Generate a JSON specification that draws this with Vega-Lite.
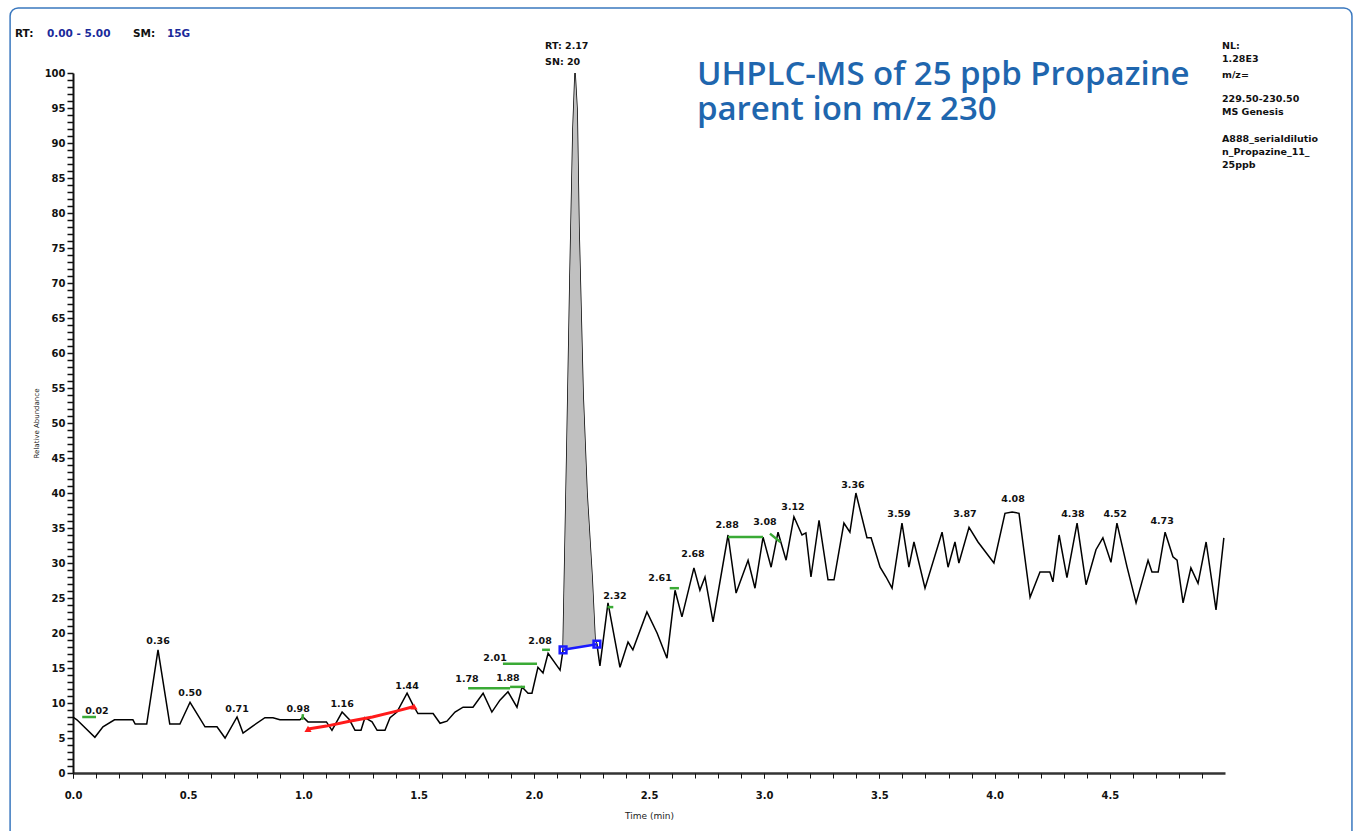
{
  "$schema": "https://vega.github.io/schema/vega-lite/v6.json",
  "width": 1152,
  "height": 700,
  "autosize": "none",
  "padding": {"left": 73, "top": 73, "right": 130, "bottom": 58},
  "background": "white",
  "config": {"view": {"stroke": null}, "font": "DejaVu Sans"},
  "resolve": {"axis": {"x": "independent", "y": "independent"}},
  "datasets": {
    "frame": [{"x1": -0.273, "x2": 5.551, "y1": 109.3, "y2": -9.6}],
    "trace": [
      {"t": 0.0, "v": 8.0}, {"t": 0.017, "v": 7.6}, {"t": 0.095, "v": 5.1}, {"t": 0.13, "v": 6.6},
      {"t": 0.18, "v": 7.6}, {"t": 0.26, "v": 7.6}, {"t": 0.27, "v": 7.0}, {"t": 0.32, "v": 7.0},
      {"t": 0.369, "v": 17.6}, {"t": 0.42, "v": 7.0}, {"t": 0.464, "v": 7.0}, {"t": 0.508, "v": 10.1},
      {"t": 0.573, "v": 6.6}, {"t": 0.625, "v": 6.6}, {"t": 0.66, "v": 5.0}, {"t": 0.712, "v": 8.0},
      {"t": 0.738, "v": 5.7}, {"t": 0.78, "v": 6.7}, {"t": 0.833, "v": 7.9}, {"t": 0.868, "v": 7.9},
      {"t": 0.898, "v": 7.6}, {"t": 0.985, "v": 7.6}, {"t": 0.998, "v": 8.0}, {"t": 1.02, "v": 7.3},
      {"t": 1.1, "v": 7.3}, {"t": 1.124, "v": 6.1}, {"t": 1.168, "v": 8.7}, {"t": 1.2, "v": 7.6},
      {"t": 1.224, "v": 6.1}, {"t": 1.25, "v": 6.1}, {"t": 1.267, "v": 7.9}, {"t": 1.298, "v": 7.3},
      {"t": 1.32, "v": 6.1}, {"t": 1.354, "v": 6.1}, {"t": 1.376, "v": 7.9}, {"t": 1.406, "v": 8.7},
      {"t": 1.45, "v": 11.4}, {"t": 1.476, "v": 9.7}, {"t": 1.497, "v": 8.5}, {"t": 1.563, "v": 8.5},
      {"t": 1.593, "v": 7.1}, {"t": 1.623, "v": 7.4}, {"t": 1.658, "v": 8.7}, {"t": 1.693, "v": 9.4},
      {"t": 1.736, "v": 9.4}, {"t": 1.78, "v": 11.4}, {"t": 1.818, "v": 8.7}, {"t": 1.853, "v": 10.4},
      {"t": 1.888, "v": 11.6}, {"t": 1.927, "v": 9.4}, {"t": 1.949, "v": 12.3}, {"t": 1.975, "v": 11.4},
      {"t": 1.992, "v": 11.4}, {"t": 2.018, "v": 15.1}, {"t": 2.04, "v": 14.3}, {"t": 2.062, "v": 17.1},
      {"t": 2.114, "v": 14.7}, {"t": 2.127, "v": 17.6}, {"t": 2.144, "v": 47}, {"t": 2.157, "v": 70.9},
      {"t": 2.17, "v": 92}, {"t": 2.179, "v": 100}, {"t": 2.188, "v": 94.7}, {"t": 2.196, "v": 78},
      {"t": 2.214, "v": 54}, {"t": 2.231, "v": 40}, {"t": 2.253, "v": 28}, {"t": 2.266, "v": 19},
      {"t": 2.274, "v": 18.4}, {"t": 2.287, "v": 15.3}, {"t": 2.322, "v": 24.3}, {"t": 2.374, "v": 15.1},
      {"t": 2.409, "v": 18.7}, {"t": 2.43, "v": 17.6}, {"t": 2.491, "v": 23}, {"t": 2.535, "v": 20},
      {"t": 2.578, "v": 16.4}, {"t": 2.613, "v": 26.1}, {"t": 2.643, "v": 22.3}, {"t": 2.695, "v": 29.3},
      {"t": 2.721, "v": 26.1}, {"t": 2.743, "v": 28}, {"t": 2.778, "v": 21.6}, {"t": 2.843, "v": 34},
      {"t": 2.878, "v": 25.7}, {"t": 2.93, "v": 30.4}, {"t": 2.96, "v": 26.4}, {"t": 2.995, "v": 33.7},
      {"t": 3.03, "v": 29.4}, {"t": 3.06, "v": 34.4}, {"t": 3.095, "v": 30.4}, {"t": 3.129, "v": 36.6},
      {"t": 3.164, "v": 34}, {"t": 3.181, "v": 34.3}, {"t": 3.203, "v": 28}, {"t": 3.238, "v": 36.1},
      {"t": 3.277, "v": 27.6}, {"t": 3.303, "v": 27.6}, {"t": 3.346, "v": 35.7}, {"t": 3.372, "v": 34.4},
      {"t": 3.398, "v": 40}, {"t": 3.446, "v": 33.6}, {"t": 3.464, "v": 33.6}, {"t": 3.503, "v": 29.4},
      {"t": 3.529, "v": 28}, {"t": 3.555, "v": 26.4}, {"t": 3.598, "v": 35.7}, {"t": 3.628, "v": 29.4},
      {"t": 3.65, "v": 33}, {"t": 3.698, "v": 26.4}, {"t": 3.772, "v": 34.4}, {"t": 3.798, "v": 29.4},
      {"t": 3.828, "v": 33}, {"t": 3.845, "v": 30}, {"t": 3.889, "v": 35.1}, {"t": 3.928, "v": 33},
      {"t": 3.997, "v": 30}, {"t": 4.045, "v": 37.1}, {"t": 4.076, "v": 37.3}, {"t": 4.106, "v": 37.1},
      {"t": 4.154, "v": 25.1}, {"t": 4.197, "v": 28.7}, {"t": 4.24, "v": 28.7}, {"t": 4.253, "v": 27.3},
      {"t": 4.28, "v": 34}, {"t": 4.314, "v": 27.9}, {"t": 4.358, "v": 35.7}, {"t": 4.397, "v": 26.9},
      {"t": 4.44, "v": 31.9}, {"t": 4.47, "v": 33.6}, {"t": 4.505, "v": 30.1}, {"t": 4.531, "v": 35.7},
      {"t": 4.575, "v": 29.4}, {"t": 4.614, "v": 24.3}, {"t": 4.666, "v": 30.4}, {"t": 4.683, "v": 28.7},
      {"t": 4.71, "v": 28.7}, {"t": 4.74, "v": 34.4}, {"t": 4.774, "v": 30.9}, {"t": 4.792, "v": 30.4},
      {"t": 4.818, "v": 24.3}, {"t": 4.852, "v": 29.3}, {"t": 4.883, "v": 27.1}, {"t": 4.918, "v": 33},
      {"t": 4.961, "v": 23.3}, {"t": 4.995, "v": 33.6}
    ],
    "peak": [
      {"t": 2.127, "v": 17.6, "base": 17.6}, {"t": 2.144, "v": 47, "base": 17.7},
      {"t": 2.157, "v": 70.9, "base": 17.8}, {"t": 2.17, "v": 92, "base": 17.9},
      {"t": 2.179, "v": 100, "base": 17.9}, {"t": 2.188, "v": 94.7, "base": 18.0},
      {"t": 2.196, "v": 78, "base": 18.0}, {"t": 2.214, "v": 54, "base": 18.1},
      {"t": 2.231, "v": 40, "base": 18.2}, {"t": 2.253, "v": 28, "base": 18.3},
      {"t": 2.266, "v": 19, "base": 18.3}, {"t": 2.274, "v": 18.4, "base": 18.4}
    ],
    "green": [
      {"t1": 0.04, "t2": 0.1, "v1": 8.0, "v2": 8.0},
      {"t1": 0.995, "t2": 0.998, "v1": 7.6, "v2": 8.4},
      {"t1": 1.715, "t2": 1.897, "v1": 12.1, "v2": 12.1},
      {"t1": 1.897, "t2": 1.962, "v1": 12.3, "v2": 12.3},
      {"t1": 1.866, "t2": 2.014, "v1": 15.6, "v2": 15.6},
      {"t1": 2.036, "t2": 2.07, "v1": 17.6, "v2": 17.6},
      {"t1": 2.32, "t2": 2.345, "v1": 23.7, "v2": 23.7},
      {"t1": 2.59, "t2": 2.63, "v1": 26.4, "v2": 26.4},
      {"t1": 2.843, "t2": 2.995, "v1": 33.7, "v2": 33.7},
      {"t1": 3.025, "t2": 3.07, "v1": 34.2, "v2": 33.0}
    ],
    "red": [
      {"t": 1.02, "v": 6.3}, {"t": 1.1, "v": 6.7}, {"t": 1.2, "v": 7.4}, {"t": 1.3, "v": 8.0},
      {"t": 1.4, "v": 8.8}, {"t": 1.48, "v": 9.5}
    ],
    "redEnds": [{"t": 1.02, "v": 6.3}, {"t": 1.48, "v": 9.5}],
    "blue": [{"t": 2.127, "v": 17.6}, {"t": 2.274, "v": 18.4}],
    "labels": [
      {"t": 0.104, "v": 8.4, "txt": "0.02"}, {"t": 0.369, "v": 18.4, "txt": "0.36"},
      {"t": 0.508, "v": 11.0, "txt": "0.50"}, {"t": 0.712, "v": 8.7, "txt": "0.71"},
      {"t": 0.977, "v": 8.7, "txt": "0.98"}, {"t": 1.168, "v": 9.4, "txt": "1.16"},
      {"t": 1.45, "v": 12.0, "txt": "1.44"}, {"t": 1.71, "v": 13.0, "txt": "1.78"},
      {"t": 1.888, "v": 13.1, "txt": "1.88"}, {"t": 1.832, "v": 16.0, "txt": "2.01"},
      {"t": 2.027, "v": 18.4, "txt": "2.08"}, {"t": 2.352, "v": 24.9, "txt": "2.32"},
      {"t": 2.548, "v": 27.4, "txt": "2.61"}, {"t": 2.691, "v": 30.9, "txt": "2.68"},
      {"t": 2.839, "v": 35.0, "txt": "2.88"}, {"t": 3.003, "v": 35.4, "txt": "3.08"},
      {"t": 3.125, "v": 37.6, "txt": "3.12"}, {"t": 3.385, "v": 40.7, "txt": "3.36"},
      {"t": 3.585, "v": 36.6, "txt": "3.59"}, {"t": 3.871, "v": 36.6, "txt": "3.87"},
      {"t": 4.08, "v": 38.7, "txt": "4.08"}, {"t": 4.34, "v": 36.6, "txt": "4.38"},
      {"t": 4.523, "v": 36.6, "txt": "4.52"}, {"t": 4.727, "v": 35.6, "txt": "4.73"}
    ],
    "peakInfo": [
      {"t": 2.049, "v": 103.4, "txt": "RT: 2.17\nSN: 20"}
    ],
    "header": [
      {"t": -0.252, "v": 105.1, "txt": "RT:", "part": "key"},
      {"t": -0.113, "v": 105.1, "txt": "0.00 - 5.00", "part": "value"},
      {"t": 0.26, "v": 105.1, "txt": "SM:", "part": "key"},
      {"t": 0.408, "v": 105.1, "txt": "15G", "part": "value"}
    ],
    "info": [
      {"t": 4.987, "v": 103.4, "txt": "NL:\n1.28E3"},
      {"t": 4.987, "v": 99.3, "txt": "m/z="},
      {"t": 4.987, "v": 95.9, "txt": "229.50-230.50\nMS Genesis"},
      {"t": 4.987, "v": 90.1, "txt": "A888_serialdilutio\nn_Propazine_11_\n25ppb"}
    ],
    "title": [
      {"t": 2.708, "v": 98.3, "txt": "UHPLC-MS of 25 ppb Propazine\nparent ion m/z 230"}
    ]
  },
  "layer": [
    {
      "data": {"name": "trace"},
      "mark": {"type": "line", "color": "black", "strokeWidth": 1.5},
      "encoding": {
        "x": {
          "field": "t", "type": "quantitative",
          "scale": {"domain": [0, 5], "nice": false, "zero": false},
          "axis": {
            "orient": "bottom",
            "title": "Time (min)",
            "titleFont": "DejaVu Sans", "titleFontSize": 9, "titleFontWeight": "normal", "titleColor": "#222",
            "titlePadding": 11,
            "values": [0, 0.5, 1, 1.5, 2, 2.5, 3, 3.5, 4, 4.5],
            "tickCount": 20,
            "format": ".1f",
            "labelOverlap": false, "labelFlush": false,
            "labelFont": "DejaVu Sans", "labelFontSize": 10, "labelFontWeight": "bold", "labelColor": "#111",
            "labelPadding": 12,
            "domainColor": "#333", "domainWidth": 2.5,
            "tickColor": "#111", "tickSize": 5, "tickWidth": 1,
            "grid": false
          }
        },
        "y": {
          "field": "v", "type": "quantitative",
          "scale": {"domain": [0, 100], "nice": false},
          "axis": {
            "orient": "left",
            "title": "Relative Abundance",
            "titleFont": "DejaVu Sans", "titleFontSize": 7, "titleFontWeight": "normal", "titleColor": "#222",
            "titlePadding": 5,
            "values": [0,1,2,3,4,5,6,7,8,9,10,11,12,13,14,15,16,17,18,19,20,21,22,23,24,25,26,27,28,29,30,31,32,33,34,35,36,37,38,39,40,41,42,43,44,45,46,47,48,49,50,51,52,53,54,55,56,57,58,59,60,61,62,63,64,65,66,67,68,69,70,71,72,73,74,75,76,77,78,79,80,81,82,83,84,85,86,87,88,89,90,91,92,93,94,95,96,97,98,99,100],
            "tickCount": 200,
            "labelExpr": "datum.value % 5 === 0 ? format(datum.value, 'd') : ''",
            "labelOverlap": false, "labelFlush": false, "labelBound": false,
            "labelFont": "DejaVu Sans", "labelFontSize": 10, "labelFontWeight": "bold", "labelColor": "#111",
            "labelPadding": 2,
            "domainColor": "#111", "domainWidth": 2,
            "tickColor": "#111", "tickSize": 6, "tickWidth": 1.5,
            "grid": false
          }
        }
      }
    },
    {
      "data": {"name": "frame"},
      "mark": {"type": "rect", "filled": false, "stroke": "#3a78bf", "strokeWidth": 1.5, "cornerRadius": 8},
      "encoding": {
        "x": {
          "field": "x1", "type": "quantitative",
          "axis": {
            "orient": "bottom", "title": null, "labels": false, "domain": false, "grid": false,
            "values": [0,0.1,0.2,0.3,0.4,0.5,0.6,0.7,0.8,0.9,1,1.1,1.2,1.3,1.4,1.5,1.6,1.7,1.8,1.9,2,2.1,2.2,2.3,2.4,2.5,2.6,2.7,2.8,2.9,3,3.1,3.2,3.3,3.4,3.5,3.6,3.7,3.8,3.9,4,4.1,4.2,4.3,4.4,4.5,4.6,4.7,4.8,4.9],
            "tickCount": 100,
            "tickColor": "#111", "tickSize": 5, "tickWidth": 1
          }
        },
        "x2": {"field": "x2"},
        "y": {"field": "y1", "type": "quantitative", "axis": null},
        "y2": {"field": "y2"}
      }
    },
    {
      "data": {"name": "peak"},
      "mark": {"type": "area", "color": "#c0c0c0", "opacity": 1},
      "encoding": {
        "x": {"field": "t", "type": "quantitative", "axis": null},
        "y": {"field": "v", "type": "quantitative", "axis": null},
        "y2": {"field": "base"}
      }
    },
    {
      "data": {"name": "green"},
      "mark": {"type": "rule", "color": "#3aaa35", "strokeWidth": 2.5},
      "encoding": {
        "x": {"field": "t1", "type": "quantitative", "axis": null},
        "x2": {"field": "t2"},
        "y": {"field": "v1", "type": "quantitative", "axis": null},
        "y2": {"field": "v2"}
      }
    },
    {
      "data": {"name": "red"},
      "mark": {"type": "line", "color": "#ff1a1a", "strokeWidth": 3},
      "encoding": {
        "x": {"field": "t", "type": "quantitative", "axis": null},
        "y": {"field": "v", "type": "quantitative", "axis": null}
      }
    },
    {
      "data": {"name": "redEnds"},
      "mark": {"type": "point", "shape": "triangle-up", "filled": true, "color": "#ff1a1a", "size": 50, "opacity": 1},
      "encoding": {
        "x": {"field": "t", "type": "quantitative", "axis": null},
        "y": {"field": "v", "type": "quantitative", "axis": null}
      }
    },
    {
      "data": {"name": "blue"},
      "mark": {"type": "line", "color": "#1a1aff", "strokeWidth": 2.5},
      "encoding": {
        "x": {"field": "t", "type": "quantitative", "axis": null},
        "y": {"field": "v", "type": "quantitative", "axis": null}
      }
    },
    {
      "data": {"name": "blue"},
      "mark": {"type": "point", "shape": "square", "filled": false, "color": "#1a1aff", "size": 45, "strokeWidth": 2.5, "opacity": 1},
      "encoding": {
        "x": {"field": "t", "type": "quantitative", "axis": null},
        "y": {"field": "v", "type": "quantitative", "axis": null}
      }
    },
    {
      "data": {"name": "labels"},
      "mark": {"type": "text", "font": "DejaVu Sans", "fontSize": 9.5, "fontWeight": "bold", "color": "#111", "align": "center", "baseline": "alphabetic"},
      "encoding": {
        "x": {"field": "t", "type": "quantitative", "axis": null},
        "y": {"field": "v", "type": "quantitative", "axis": null},
        "text": {"field": "txt"}
      }
    },
    {
      "data": {"name": "peakInfo"},
      "mark": {"type": "text", "font": "DejaVu Sans", "fontSize": 9.5, "fontWeight": "bold", "color": "#111", "align": "left", "baseline": "alphabetic", "lineBreak": "\n", "lineHeight": 16},
      "encoding": {
        "x": {"field": "t", "type": "quantitative", "axis": null},
        "y": {"field": "v", "type": "quantitative", "axis": null},
        "text": {"field": "txt"}
      }
    },
    {
      "data": {"name": "header"},
      "mark": {"type": "text", "font": "DejaVu Sans", "fontSize": 10.5, "fontWeight": "bold", "align": "left", "baseline": "alphabetic"},
      "encoding": {
        "x": {"field": "t", "type": "quantitative", "axis": null},
        "y": {"field": "v", "type": "quantitative", "axis": null},
        "text": {"field": "txt"},
        "color": {"field": "part", "type": "nominal", "scale": {"domain": ["key", "value"], "range": ["#111111", "#1a2a9a"]}, "legend": null}
      }
    },
    {
      "data": {"name": "info"},
      "mark": {"type": "text", "font": "DejaVu Sans", "fontSize": 9.5, "fontWeight": "bold", "color": "#111", "align": "left", "baseline": "alphabetic", "lineBreak": "\n", "lineHeight": 13},
      "encoding": {
        "x": {"field": "t", "type": "quantitative", "axis": null},
        "y": {"field": "v", "type": "quantitative", "axis": null},
        "text": {"field": "txt"}
      }
    },
    {
      "data": {"name": "title"},
      "mark": {"type": "text", "font": "Open Sans", "fontSize": 33, "fontWeight": 600, "color": "#1f66ae", "align": "left", "baseline": "alphabetic", "lineBreak": "\n", "lineHeight": 35},
      "encoding": {
        "x": {"field": "t", "type": "quantitative", "axis": null},
        "y": {"field": "v", "type": "quantitative", "axis": null},
        "text": {"field": "txt"}
      }
    }
  ]
}
